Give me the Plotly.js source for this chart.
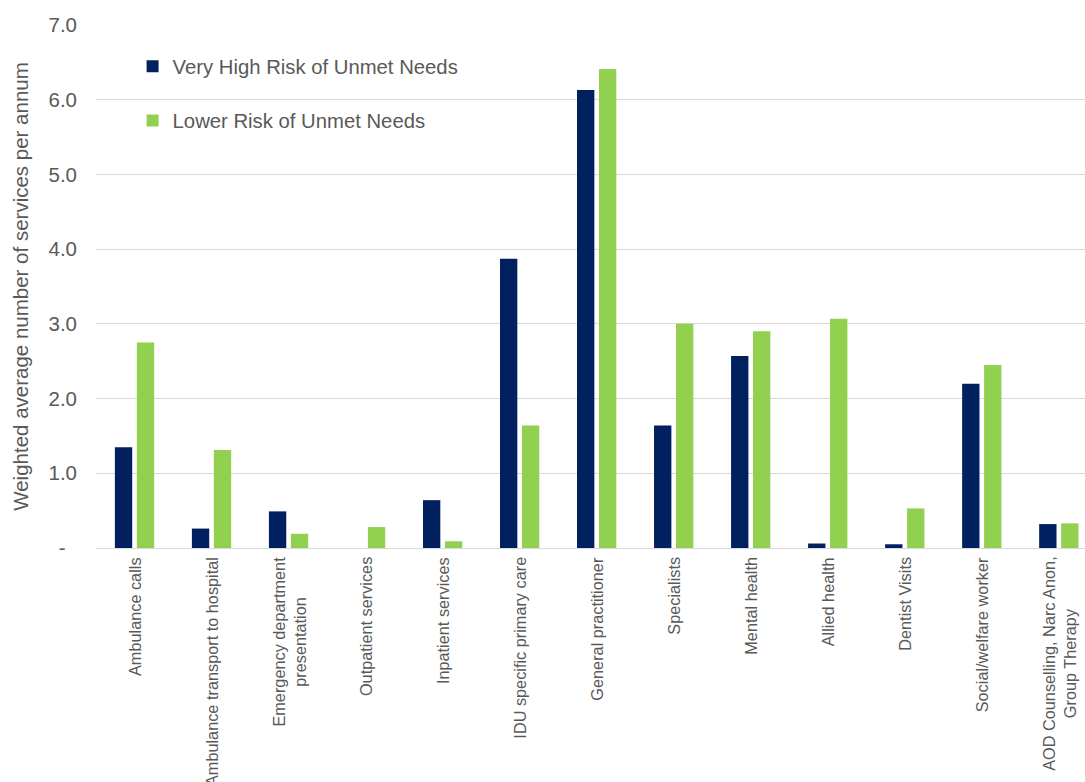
<!DOCTYPE html>
<html>
<head>
<meta charset="utf-8">
<script src="https://cdn.plot.ly/plotly-3.0.1.min.js"></script>
<style>
  html, body { margin: 0; padding: 0; background: #ffffff; }
  #chart { width: 1085px; height: 782px; }
</style>
</head>
<body>
<div id="chart"></div>
<script>
// Service categories (x axis)
const categories = [
  "Ambulance calls",
  "Ambulance transport to hospital",
  "Emergency department<br>presentation",
  "Outpatient services",
  "Inpatient services",
  "IDU specific primary care",
  "General practitioner",
  "Specialists",
  "Mental health",
  "Allied health",
  "Dentist Visits",
  "Social/welfare worker",
  "AOD Counselling, Narc Anon,<br>Group Therapy"
];

// Weighted average number of services per annum
const veryHighRisk = [1.35, 0.26, 0.49, 0, 0.64, 3.87, 6.13, 1.64, 2.57, 0.06, 0.05, 2.20, 0.32];
const lowerRisk    = [2.75, 1.31, 0.19, 0.28, 0.09, 1.64, 6.41, 3.00, 2.90, 3.07, 0.53, 2.45, 0.33];

// Y axis ticks (accounting-style dash for zero)
const yTickVals  = [0, 1, 2, 3, 4, 5, 6, 7];
const yTickText  = ["-\u00a0\u00a0", "1.0", "2.0", "3.0", "4.0", "5.0", "6.0", "7.0"];

const seriesNames = ["Very High Risk of Unmet Needs", "Lower Risk of Unmet Needs"];
const seriesColors = ["#002060", "#92D050"];

const FONT = "Liberation Sans, Arial, Helvetica, sans-serif";
const TEXT = "#595959";

const traces = [veryHighRisk, lowerRisk].map((vals, i) => ({
  type: "bar",
  name: seriesNames[i],
  legendgroup: "g" + i,
  x: categories,
  y: vals,
  marker: { color: seriesColors[i], line: { width: 0 } },
  hoverinfo: "x+y"
}));

// Category labels, rotated, with centred line breaks
const labelAnnotations = categories.map(c => ({
  x: c,
  xref: "x",
  y: 0,
  yref: "y",
  yshift: -7,
  text: c,
  showarrow: false,
  textangle: -90,
  xanchor: "center",
  yanchor: "top",
  align: "center",
  font: { family: FONT, size: 16.3, color: TEXT }
}));

const layout = {
  width: 1085,
  height: 782,
  margin: { l: 96, r: 0, t: 25, b: 234 },
  paper_bgcolor: "#ffffff",
  plot_bgcolor: "#ffffff",
  barmode: "group",
  bargap: 0.43,
  bargroupgap: 0.21,
  font: { family: FONT, color: TEXT },
  showlegend: true,
  legend: {
    x: 0.037,
    y: 0.959,
    xanchor: "left",
    yanchor: "top",
    bgcolor: "rgba(0,0,0,0)",
    font: { family: FONT, size: 20.3, color: TEXT },
    tracegroupgap: 25,
    traceorder: "grouped"
  },
  xaxis: {
    type: "category",
    range: [-0.5, 12.34],
    showticklabels: false,
    showgrid: false,
    zeroline: false,
    showline: false,
    ticks: "",
    fixedrange: true
  },
  yaxis: {
    range: [0, 7],
    tickvals: yTickVals,
    ticktext: yTickText,
    tickfont: { family: FONT, size: 20.5, color: TEXT },
    ticklabelstandoff: 18,
    showgrid: true,
    gridcolor: "#D9D9D9",
    gridwidth: 1,
    zeroline: true,
    zerolinecolor: "#D9D9D9",
    zerolinewidth: 1,
    showline: false,
    ticks: "",
    title: {
      text: "Weighted average number of services per annum",
      font: { family: FONT, size: 20.5, color: TEXT },
      standoff: 14
    },
    fixedrange: true
  },
  annotations: labelAnnotations
};

Plotly.newPlot("chart", traces, layout, { displayModeBar: false, staticPlot: true });
</script>
</body>
</html>
